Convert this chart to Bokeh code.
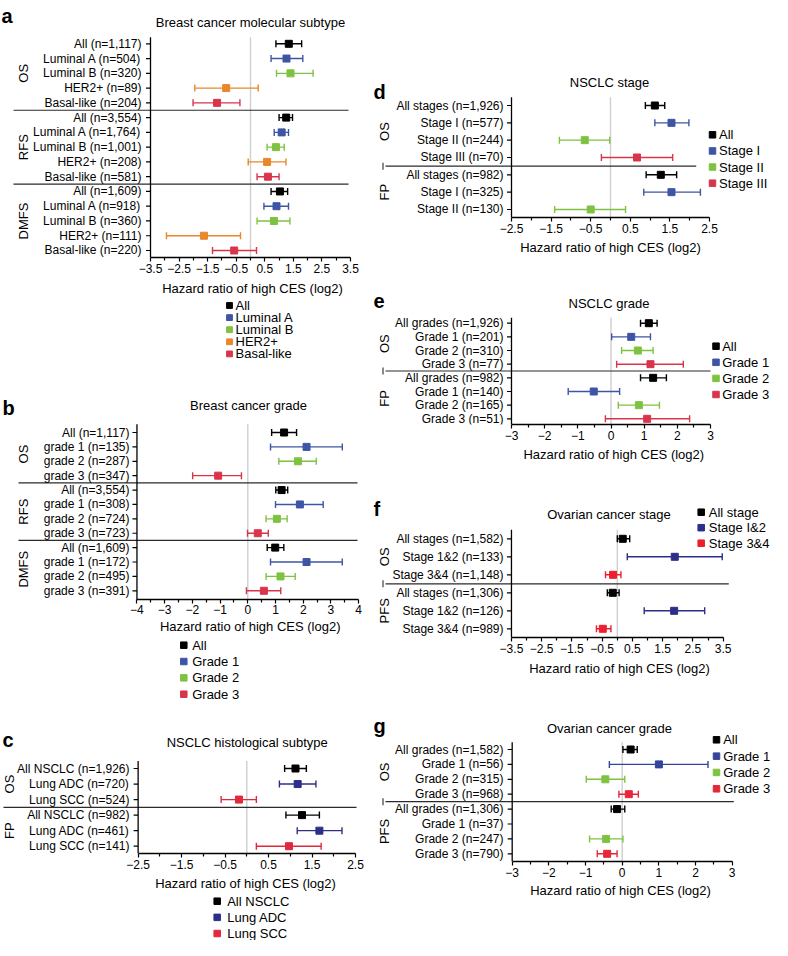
import numpy as np
from bokeh.plotting import figure
from bokeh.layouts import row, column
from bokeh.models import Range1d, FixedTicker, ColumnDataSource, CustomJSTickFormatter
from bokeh.core.properties import value
from bokeh.embed import file_html
from bokeh.resources import INLINE

FONT = "Liberation Sans"
X_TITLE = "Hazard ratio of high CES (log2)"
NAN = float("nan")

BLACK = "#000000"
BLUE = "#3e55a5"
GREEN = "#7fc241"
ORANGE = "#e8872b"
CRIMSON = "#d8354c"
NAVY = "#2c2f88"
RED = "#eb1f2e"

# ---------------- a: breast cancer molecular subtype
A_TITLE = "Breast cancer molecular subtype"
A_GROUPS = ["OS", "RFS", "DMFS"]
A_GROUP_N = [5, 5, 5]
A_LABELS = ["All (n=1,117)", "Luminal A (n=504)", "Luminal B (n=320)", "HER2+ (n=89)", "Basal-like (n=204)",
            "All (n=3,554)", "Luminal A (n=1,764)", "Luminal B (n=1,001)", "HER2+ (n=208)", "Basal-like (n=581)",
            "All (n=1,609)", "Luminal A (n=918)", "Luminal B (n=360)", "HER2+ (n=111)", "Basal-like (n=220)"]
A_SERIES = ["All", "Luminal A", "Luminal B", "HER2+", "Basal-like"]
A_COLORS = [BLACK, BLUE, GREEN, ORANGE, CRIMSON]
A_SER = [0, 1, 2, 3, 4, 0, 1, 2, 3, 4, 0, 1, 2, 3, 4]
A_HR = [1.34, 1.26, 1.40, -0.85, -1.17, 1.25, 1.09, 0.89, 0.58, 0.61, 1.03, 0.91, 0.82, -1.63, -0.57]
A_LO = [0.89, 0.72, 0.91, -1.95, -2.01, 1.00, 0.83, 0.58, -0.08, 0.23, 0.72, 0.47, 0.23, -2.94, -1.33]
A_HI = [1.79, 1.83, 2.19, 0.27, -0.37, 1.47, 1.33, 1.18, 1.24, 1.00, 1.30, 1.33, 1.38, -0.35, 0.21]
A_TICKS = [-3.5, -2.5, -1.5, -0.5, 0.5, 1.5, 2.5, 3.5]
A_MINOR = [-3, -2, -1, 0, 1, 2, 3]

# ---------------- b: breast cancer grade
B_TITLE = "Breast cancer grade"
B_GROUPS = ["OS", "RFS", "DMFS"]
B_GROUP_N = [4, 4, 4]
B_LABELS = ["All (n=1,117)", "grade 1 (n=135)", "grade 2 (n=287)", "grade 3 (n=347)",
            "All (n=3,554)", "grade 1 (n=308)", "grade 2 (n=724)", "grade 3 (n=723)",
            "All (n=1,609)", "grade 1 (n=172)", "grade 2 (n=495)", "grade 3 (n=391)"]
B_SERIES = ["All", "Grade 1", "Grade 2", "Grade 3"]
B_COLORS = [BLACK, BLUE, GREEN, CRIMSON]
B_SER = [0, 1, 2, 3, 0, 1, 2, 3, 0, 1, 2, 3]
B_HR = [1.31, 2.12, 1.81, -1.07, 1.22, 1.88, 1.05, 0.36, 0.99, 2.12, 1.18, 0.58]
B_LO = [0.86, 0.82, 1.12, -1.99, 1.01, 1.00, 0.66, -0.01, 0.70, 0.82, 0.66, -0.05]
B_HI = [1.76, 3.41, 2.47, -0.23, 1.44, 2.72, 1.42, 0.74, 1.30, 3.41, 1.71, 1.19]
B_TICKS = [-4, -3, -2, -1, 0, 1, 2, 3, 4]
B_MINOR = [-3.5, -2.5, -1.5, -0.5, 0.5, 1.5, 2.5, 3.5]

# ---------------- c: NSCLC histological subtype
C_TITLE = "NSCLC histological subtype"
C_GROUPS = ["OS", "FP"]
C_GROUP_N = [3, 3]
C_LABELS = ["All NSCLC (n=1,926)", "Lung ADC (n=720)", "Lung SCC (n=524)",
            "All NSCLC (n=982)", "Lung ADC (n=461)", "Lung SCC (n=141)"]
C_SERIES = ["All NSCLC", "Lung ADC", "Lung SCC"]
C_COLORS = [BLACK, NAVY, "#e0283e"]
C_SER = [0, 1, 2, 0, 1, 2]
C_HR = [1.12, 1.17, -0.18, 1.27, 1.67, 0.97]
C_LO = [0.87, 0.75, -0.59, 0.90, 1.16, 0.22]
C_HI = [1.37, 1.59, 0.22, 1.67, 2.19, 1.71]
C_TICKS = [-2.5, -1.5, -0.5, 0.5, 1.5, 2.5]
C_MINOR = [-2, -1, 0, 1, 2]

# ---------------- d: NSCLC stage
D_TITLE = "NSCLC stage"
D_GROUPS = ["OS", "FP"]
D_GROUP_N = [4, 3]
D_LABELS = ["All stages (n=1,926)", "Stage I (n=577)", "Stage II (n=244)", "Stage III (n=70)",
            "All stages (n=982)", "Stage I (n=325)", "Stage II (n=130)"]
D_SERIES = ["All", "Stage I", "Stage II", "Stage III"]
D_COLORS = [BLACK, BLUE, GREEN, CRIMSON]
D_SER = [0, 1, 2, 3, 0, 1, 2]
D_HR = [1.12, 1.54, -0.65, 0.67, 1.27, 1.54, -0.50]
D_LO = [0.88, 1.12, -1.29, -0.23, 0.90, 0.84, -1.41]
D_HI = [1.37, 1.98, -0.02, 1.57, 1.67, 2.27, 0.38]
D_TICKS = [-2.5, -1.5, -0.5, 0.5, 1.5, 2.5]
D_MINOR = [-2, -1, 0, 1, 2]

# ---------------- e: NSCLC grade
E_TITLE = "NSCLC grade"
E_GROUPS = ["OS", "FP"]
E_GROUP_N = [4, 4]
E_LABELS = ["All grades (n=1,926)", "Grade 1 (n=201)", "Grade 2 (n=310)", "Grade 3 (n=77)",
            "All grades (n=982)", "Grade 1 (n=140)", "Grade 2 (n=165)", "Grade 3 (n=51)"]
E_SERIES = ["All", "Grade 1", "Grade 2", "Grade 3"]
E_COLORS = [BLACK, BLUE, GREEN, CRIMSON]
E_SER = [0, 1, 2, 3, 0, 1, 2, 3]
E_HR = [1.14, 0.61, 0.81, 1.19, 1.27, -0.52, 0.84, 1.09]
E_LO = [0.89, 0.02, 0.32, 0.17, 0.89, -1.29, 0.22, -0.17]
E_HI = [1.39, 1.19, 1.27, 2.18, 1.67, 0.26, 1.46, 2.37]
E_TICKS = [-3, -2, -1, 0, 1, 2, 3]
E_MINOR = [-2.5, -1.5, -0.5, 0.5, 1.5, 2.5]

# ---------------- f: ovarian cancer stage
F_TITLE = "Ovarian cancer stage"
F_GROUPS = ["OS", "PFS"]
F_GROUP_N = [3, 3]
F_LABELS = ["All stages (n=1,582)", "Stage 1&2 (n=133)", "Stage 3&4 (n=1,148)",
            "All stages (n=1,306)", "Stage 1&2 (n=126)", "Stage 3&4 (n=989)"]
F_SERIES = ["All stage", "Stage I&2", "Stage 3&4"]
F_COLORS = [BLACK, NAVY, RED]
F_SER = [0, 1, 2, 0, 1, 2]
F_HR = [0.18, 1.90, -0.14, -0.15, 1.88, -0.48]
F_LO = [0.00, 0.33, -0.39, -0.33, 0.89, -0.69]
F_HI = [0.41, 3.47, 0.12, 0.06, 2.89, -0.21]
F_TICKS = [-3.5, -2.5, -1.5, -0.5, 0.5, 1.5, 2.5, 3.5]
F_MINOR = [-3, -2, -1, 0, 1, 2, 3]

# ---------------- g: ovarian cancer grade
G_TITLE = "Ovarian cancer grade"
G_GROUPS = ["OS", "PFS"]
G_GROUP_N = [4, 4]
G_LABELS = ["All grades (n=1,582)", "Grade 1 (n=56)", "Grade 2 (n=315)", "Grade 3 (n=968)",
            "All grades (n=1,306)", "Grade 1 (n=37)", "Grade 2 (n=247)", "Grade 3 (n=790)"]
G_SERIES = ["All", "Grade 1", "Grade 2", "Grade 3"]
G_COLORS = [BLACK, "#34449c", GREEN, "#e5273a"]
G_SER = [0, 1, 2, 3, 0, 1, 2, 3]
G_HR = [0.23, 1.00, -0.46, 0.18, -0.14, NAN, -0.44, -0.41]
G_LO = [0.02, -0.35, -0.98, -0.09, -0.30, NAN, -0.89, -0.68]
G_HI = [0.41, 2.34, 0.07, 0.44, 0.07, NAN, 0.02, -0.14]
G_TICKS = [-3, -2, -1, 0, 1, 2, 3]
G_MINOR = [-2.5, -1.5, -0.5, 0.5, 1.5, 2.5]

# ---------------- layout (pixel geometry of each panel, in reference pixels)
LEFT = dict(x0=0, w=373, label_right=141)
RIGHT = dict(x0=388, w=399, label_right=518, grp_x=398.5, bar_x=397.5)

LAY_A = dict(LEFT, top=0, bottom=279, yaxis=256.7, axis_top=36.7, zero=250, k=200 / 7, row0=43.3, dy=14.764,
             label_right=141, grp_x=23, sep=(13, 348), title=(250, 22), letter=(1, 15), standoff=2)
LAY_B = dict(LEFT, top=398, bottom=626, yaxis=606.7, axis_top=431.7, zero=247.3, k=27.71, row0=440, dy=14.39,
             label_right=129, grp_x=23, sep=(18, 357), title=(248, 413.3), letter=(2, 415), standoff=1)
LAY_C = dict(LEFT, top=742, bottom=890, yaxis=869.3, axis_top=776.5, zero=246.3, k=43.47, row0=784, dy=15.54,
             label_right=129, grp_x=8.5, sep=(3, 356), title=(246.7, 758.3), letter=(2, 755), standoff=2)
LAY_D = dict(RIGHT, top=0, bottom=238, yaxis=217.3, axis_top=96.7, zero=625, k=39.6, row0=105, dy=17.33,
             sep=(400, 710.7), title=(624, 81.7), letter=(388, 91.7), standoff=2,
             legend=dict(sq=727, tx=733.5, y0=134.3, pitch=16.13, size=6.5))
LAY_E = dict(RIGHT, top=262, bottom=445, yaxis=424, axis_top=317.3, zero=625.5, k=33.17, row0=322.7, dy=13.66,
             sep=(400, 725), title=(623.5, 302.7), letter=(388, 300), standoff=2,
             legend=dict(sq=730.5, tx=736.7, y0=345.7, pitch=16.1, size=6.5))
LAY_F = dict(RIGHT, top=470, bottom=659, yaxis=636.7, axis_top=529.3, zero=631.8, k=30.24, row0=538.3, dy=18.0,
             sep=(400, 743.3), title=(623.5, 514.3), letter=(388, 508), standoff=2,
             legend=dict(sq=715.7, tx=723.3, y0=511.7, pitch=15.5, size=6.5))
LAY_G = dict(RIGHT, top=684, bottom=882, yaxis=861, axis_top=741.7, zero=636.7, k=36.67, row0=749, dy=14.9,
             sep=(400, 748.3), title=(624, 728.3), letter=(388, 725.5), standoff=2,
             legend=dict(sq=731, tx=737.7, y0=739.3, pitch=16.33, size=6.5))

# strips below each panel: axis title (and legend for the left column)
STRIP_A = dict(x0=0, w=373, top=279, h=111, xt=(252, 288),
               legend=dict(sq=229, tx=235, y0=305, pitch=12.1, size=5.8))
STRIP_B = dict(x0=0, w=373, top=626, h=108, xt=(249.7, 634),
               legend=dict(sq=183.3, tx=191.7, y0=652.7, pitch=16.33, size=6.5))
STRIP_C = dict(x0=0, w=373, top=890, h=66, xt=(245, 898.5),
               legend=dict(sq=216.7, tx=226.7, y0=916.7, pitch=16.15, size=6.5))
STRIP_D = dict(x0=388, w=399, top=238, h=24, xt=(625, 247))
STRIP_E = dict(x0=388, w=399, top=445, h=25, xt=(628.3, 453.5))
STRIP_F = dict(x0=388, w=399, top=659, h=25, xt=(634, 667.5))
STRIP_G = dict(x0=388, w=399, top=882, h=58, xt=(635, 890))


def txt(p, x, y, text, size="12px", align="left", baseline="middle", angle=0, style="normal", color="#000000"):
    p.text(x=x, y=y, text=text, angle=angle, text_font=value(FONT), text_font_size=size,
           text_font_style=style, text_align=align, text_baseline=baseline, text_color=color)


def forest(L, title, letter, groups, gsizes, labels, series, colors, ser, hr, lo, hi, ticks, minor):
    top, bot = L["top"], L["bottom"]
    mbb = int(round(bot - L["yaxis"]))
    fb = bot - mbb
    zero, k, r0, dy = L["zero"], L["k"], L["row0"], L["dy"]

    def dx(px):
        return (px - zero) / k

    def ry(py):
        return (py - r0) / dy

    p = figure(width=L["w"], height=bot - top, output_backend="svg", toolbar_location=None,
               x_range=Range1d(dx(L["x0"]), dx(L["x0"] + L["w"])), y_range=Range1d(ry(fb), ry(top)),
               y_axis_location=None, title=None,
               min_border_left=0, min_border_right=0, min_border_top=0, min_border_bottom=mbb)
    p.outline_line_color = None
    p.grid.visible = False
    p.background_fill_color = "white"
    p.border_fill_color = "white"

    bounds = (min(ticks), max(ticks))
    ax = p.xaxis[0]
    ax.bounds = bounds
    ax.ticker = FixedTicker(ticks=ticks, minor_ticks=minor)
    ax.formatter = CustomJSTickFormatter(code="return String(tick).replace('-', '\u2212');")
    ax.major_label_text_font = FONT
    ax.major_label_text_font_size = "12px"
    ax.major_label_text_color = "#000000"
    ax.major_label_standoff = L["standoff"]
    ax.major_tick_out = 4
    ax.major_tick_in = 0
    ax.minor_tick_out = 3
    ax.minor_tick_in = 0
    ax.axis_line_width = 1.3
    ax.axis_line_color = "#000000"
    ax.major_tick_line_color = "#000000"
    ax.minor_tick_line_color = "#000000"
    ax.major_tick_line_width = 1.2
    ax.minor_tick_line_width = 1.2

    n = len(labels)
    rows = np.arange(n)
    ytop, ybot = ry(L["axis_top"]), ry(fb)
    xb = bounds[0]

    # zero reference line
    p.segment(x0=[0], y0=[ytop], x1=[0], y1=[ybot], line_color="#cfcfcf", line_width=1.4)

    # group separators
    cum = np.cumsum(gsizes)
    seps = cum[:-1] - 0.5
    p.segment(x0=[dx(L["sep"][0])] * len(seps), y0=seps, x1=[dx(L["sep"][1])] * len(seps), y1=seps,
              line_color="#2b2b2b", line_width=1.2)
    if "bar_x" in L:
        h = 3.5 / dy
        p.segment(x0=[dx(L["bar_x"])] * len(seps), y0=seps - h, x1=[dx(L["bar_x"])] * len(seps), y1=seps + h,
                  line_color="#2b2b2b", line_width=1.1)

    # y axis line and ticks
    p.segment(x0=[xb], y0=[ytop], x1=[xb], y1=[ybot], line_color="#000000", line_width=1.3)
    p.segment(x0=[xb - 4.5 / k] * n, y0=rows, x1=[xb] * n, y1=rows, line_color="#000000", line_width=1.2)

    # forest marks
    src = ColumnDataSource(dict(y=rows, hr=np.array(hr, dtype=float), lo=np.array(lo, dtype=float),
                                hi=np.array(hi, dtype=float), color=[colors[s] for s in ser]))
    p.segment(x0="lo", y0="y", x1="hi", y1="y", line_color="color", line_width=1.4, source=src)
    p.scatter(x="lo", y="y", marker="dash", angle=np.pi / 2, size=7, line_color="color", line_width=1.4,
              source=src)
    p.scatter(x="hi", y="y", marker="dash", angle=np.pi / 2, size=7, line_color="color", line_width=1.4,
              source=src)
    p.scatter(x="hr", y="y", marker="square", size=7, fill_color="color", line_color="color", source=src)

    # row labels
    txt(p, [dx(L["label_right"])] * n, rows, labels, size="12px", align="right")
    # group labels
    starts = cum - np.array(gsizes)
    centers = starts + (np.array(gsizes) - 1) / 2
    txt(p, [dx(L["grp_x"])] * len(groups), centers, groups, size="13px", align="center", angle=np.pi / 2)
    # title and panel letter
    txt(p, [dx(L["title"][0])], [ry(L["title"][1])], [title], size="13px", align="center")
    txt(p, [dx(L["letter"][0])], [ry(L["letter"][1])], [letter], size="20px", style="bold",
        baseline="alphabetic")

    if "legend" in L:
        g = L["legend"]
        m = len(series)
        ys = [ry(g["y0"] + i * g["pitch"]) for i in range(m)]
        p.scatter(x=[dx(g["sq"])] * m, y=ys, marker="square", size=g["size"], color=colors)
        txt(p, [dx(g["tx"])] * m, ys, series, size="13px")
    return p


def strip(L, series=None, colors=None):
    p = figure(width=L["w"], height=L["h"], output_backend="svg", toolbar_location=None,
               x_range=Range1d(L["x0"], L["x0"] + L["w"]), y_range=Range1d(L["top"] + L["h"], L["top"]),
               x_axis_location=None, y_axis_location=None, title=None, min_border=0)
    p.outline_line_color = None
    p.grid.visible = False
    txt(p, [L["xt"][0]], [L["xt"][1]], [X_TITLE], size="13px", align="center")
    if series is not None:
        g = L["legend"]
        m = len(series)
        ys = [g["y0"] + i * g["pitch"] for i in range(m)]
        p.scatter(x=[g["sq"]] * m, y=ys, marker="square", size=g["size"], color=colors)
        txt(p, [g["tx"]] * m, ys, series, size="13px")
    return p


pa = forest(LAY_A, A_TITLE, "a", A_GROUPS, A_GROUP_N, A_LABELS, A_SERIES, A_COLORS, A_SER, A_HR, A_LO, A_HI,
            A_TICKS, A_MINOR)
sa = strip(STRIP_A, A_SERIES, A_COLORS)
pb = forest(LAY_B, B_TITLE, "b", B_GROUPS, B_GROUP_N, B_LABELS, B_SERIES, B_COLORS, B_SER, B_HR, B_LO, B_HI,
            B_TICKS, B_MINOR)
sb = strip(STRIP_B, B_SERIES, B_COLORS)
pc = forest(LAY_C, C_TITLE, "c", C_GROUPS, C_GROUP_N, C_LABELS, C_SERIES, C_COLORS, C_SER, C_HR, C_LO, C_HI,
            C_TICKS, C_MINOR)
sc = strip(STRIP_C, C_SERIES, C_COLORS)
pd_ = forest(LAY_D, D_TITLE, "d", D_GROUPS, D_GROUP_N, D_LABELS, D_SERIES, D_COLORS, D_SER, D_HR, D_LO, D_HI,
             D_TICKS, D_MINOR)
sd = strip(STRIP_D)
pe = forest(LAY_E, E_TITLE, "e", E_GROUPS, E_GROUP_N, E_LABELS, E_SERIES, E_COLORS, E_SER, E_HR, E_LO, E_HI,
            E_TICKS, E_MINOR)
se = strip(STRIP_E)
pf = forest(LAY_F, F_TITLE, "f", F_GROUPS, F_GROUP_N, F_LABELS, F_SERIES, F_COLORS, F_SER, F_HR, F_LO, F_HI,
            F_TICKS, F_MINOR)
sf = strip(STRIP_F)
pg = forest(LAY_G, G_TITLE, "g", G_GROUPS, G_GROUP_N, G_LABELS, G_SERIES, G_COLORS, G_SER, G_HR, G_LO, G_HI,
            G_TICKS, G_MINOR)
sg = strip(STRIP_G)

layout = row(column(pa, sa, pb, sb, pc, sc), column(pd_, sd, pe, se, pf, sf, pg, sg))

open("out.html", "w").write(file_html(layout, INLINE))
